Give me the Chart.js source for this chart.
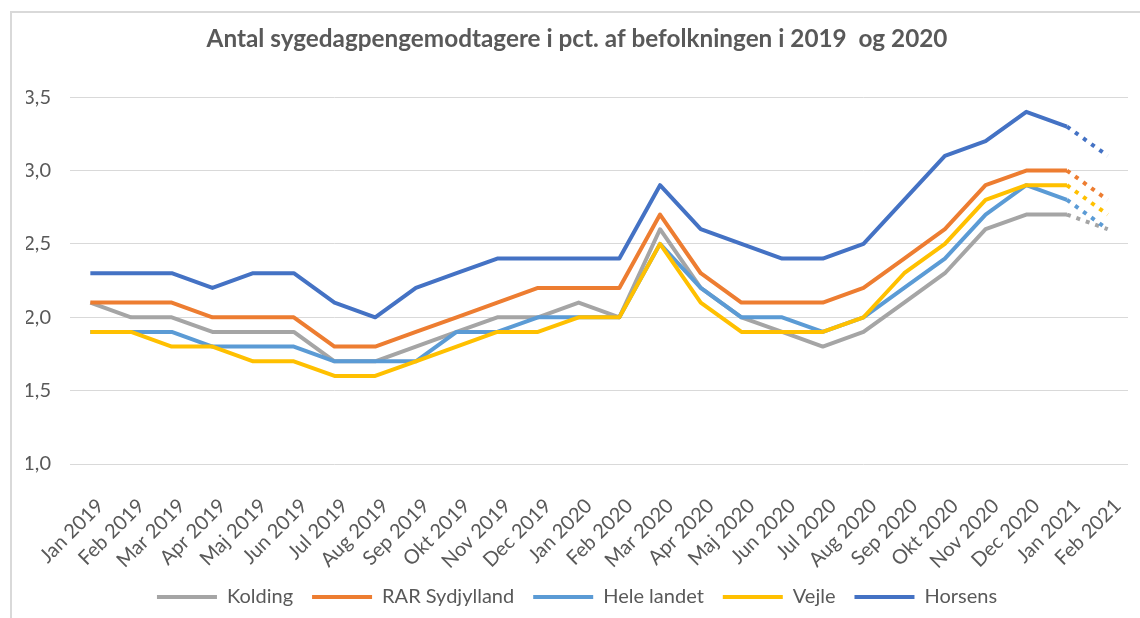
<!DOCTYPE html>
<html>
<head>
<meta charset="utf-8">
<script src="https://cdn.jsdelivr.net/npm/chart.js@4.4.1/dist/chart.umd.min.js"></script>
<style>
html,body{margin:0;padding:0;background:#ffffff;}
#wrap{width:1140px;height:618px;position:relative;}
</style>
</head>
<body>
<div id="wrap"><canvas id="c" width="1140" height="618"></canvas></div>
<script>
const titleText = 'Antal sygedagpengemodtagere i pct. af befolkningen i 2019  og 2020';
const categories = ['Jan 2019','Feb 2019','Mar 2019','Apr 2019','Maj 2019','Jun 2019','Jul 2019','Aug 2019','Sep 2019','Okt 2019','Nov 2019','Dec 2019',
  'Jan 2020','Feb 2020','Mar 2020','Apr 2020','Maj 2020','Jun 2020','Jul 2020','Aug 2020','Sep 2020','Okt 2020','Nov 2020','Dec 2020','Jan 2021','Feb 2021'];
const seriesNames = ['Kolding','RAR Sydjylland','Hele landet','Vejle','Horsens'];
const kolding = [2.1,2.0,2.0,1.9,1.9,1.9,1.7,1.7,1.8,1.9,2.0,2.0,2.1,2.0,2.6,2.2,2.0,1.9,1.8,1.9,2.1,2.3,2.6,2.7,2.7,2.6];
const rarSydjylland = [2.1,2.1,2.1,2.0,2.0,2.0,1.8,1.8,1.9,2.0,2.1,2.2,2.2,2.2,2.7,2.3,2.1,2.1,2.1,2.2,2.4,2.6,2.9,3.0,3.0,2.8];
const heleLandet = [1.9,1.9,1.9,1.8,1.8,1.8,1.7,1.7,1.7,1.9,1.9,2.0,2.0,2.0,2.5,2.2,2.0,2.0,1.9,2.0,2.2,2.4,2.7,2.9,2.8,2.6];
const vejle = [1.9,1.9,1.8,1.8,1.7,1.7,1.6,1.6,1.7,1.8,1.9,1.9,2.0,2.0,2.5,2.1,1.9,1.9,1.9,2.0,2.3,2.5,2.8,2.9,2.9,2.7];
const horsens = [2.3,2.3,2.3,2.2,2.3,2.3,2.1,2.0,2.2,2.3,2.4,2.4,2.4,2.4,2.9,2.6,2.5,2.4,2.4,2.5,2.8,3.1,3.2,3.4,3.3,3.1];
const seriesColors = ['#A5A5A5','#ED7D31','#5B9BD5','#FFC000','#4472C4'];
const dashedFromIndex = 24; // segment Jan 2021 -> Feb 2021 is dotted (projection)
const yMin = 1.0, yMax = 3.5, yStep = 0.5;

const allSeries = [kolding, rarSydjylland, heleLandet, vejle, horsens];
const textColor = '#595959';
const fontFamily = 'Lato, Carlito, "Open Sans", sans-serif';

const frame = {
  id: 'frame',
  beforeDraw(chart) {
    const ctx = chart.ctx;
    ctx.save();
    ctx.fillStyle = '#ffffff';
    ctx.fillRect(0, 0, chart.width, chart.height);
    ctx.strokeStyle = '#d9d9d9';
    ctx.lineWidth = 2;
    ctx.beginPath();
    ctx.moveTo(11, chart.height);
    ctx.lineTo(11, 12);
    ctx.lineTo(chart.width, 12);
    ctx.stroke();
    ctx.restore();
  }
};

const datasets = allSeries.map((data, i) => ({
  label: seriesNames[i],
  data: data,
  borderColor: seriesColors[i],
  backgroundColor: seriesColors[i],
  borderWidth: 4,
  pointRadius: 0,
  pointHoverRadius: 0,
  tension: 0,
  fill: false,
  borderJoinStyle: 'round',
  borderCapStyle: 'butt',
  order: allSeries.length - i,
  segment: {
    borderDash: ctx => ctx.p0DataIndex >= dashedFromIndex ? [4, 6] : undefined
  }
}));

new Chart(document.getElementById('c'), {
  type: 'line',
  data: { labels: categories, datasets: datasets },
  plugins: [frame],
  options: {
    responsive: false,
    animation: false,
    devicePixelRatio: 1,
    layout: { padding: { left: 26, right: 12, top: 0, bottom: 1 } },
    plugins: {
      title: {
        display: true, text: titleText, color: textColor,
        font: { family: fontFamily, size: 24.3, weight: 'bold' },
        padding: { top: 25, bottom: 43 }
      },
      legend: {
        position: 'bottom',
        labels: {
          usePointStyle: true, pointStyle: 'line', pointStyleWidth: 60,
          padding: 19, color: textColor,
          font: { family: fontFamily, size: 20 },
          sort: (a, b) => a.datasetIndex - b.datasetIndex
        }
      },
      tooltip: { enabled: false }
    },
    scales: {
      x: {
        offset: true,
        grid: { display: false, offset: true },
        border: { display: false },
        ticks: {
          autoSkip: false, minRotation: 45, maxRotation: 45,
          color: textColor, font: { family: fontFamily, size: 20 },
          padding: 22, labelOffset: 10
        },
        afterFit: s => { s.height = 104; s.paddingLeft = 0; s.paddingRight = 0; }
      },
      y: {
        min: yMin, max: yMax,
        grid: { color: '#d9d9d9', drawTicks: false, lineWidth: 1 },
        border: { display: false },
        ticks: {
          stepSize: yStep, padding: 19, color: textColor,
          font: { family: fontFamily, size: 20 },
          callback: v => v.toFixed(1).replace('.', ',')
        },
        afterFit: s => { s.width = 44; }
      }
    }
  }
});
</script>
</body>
</html>
